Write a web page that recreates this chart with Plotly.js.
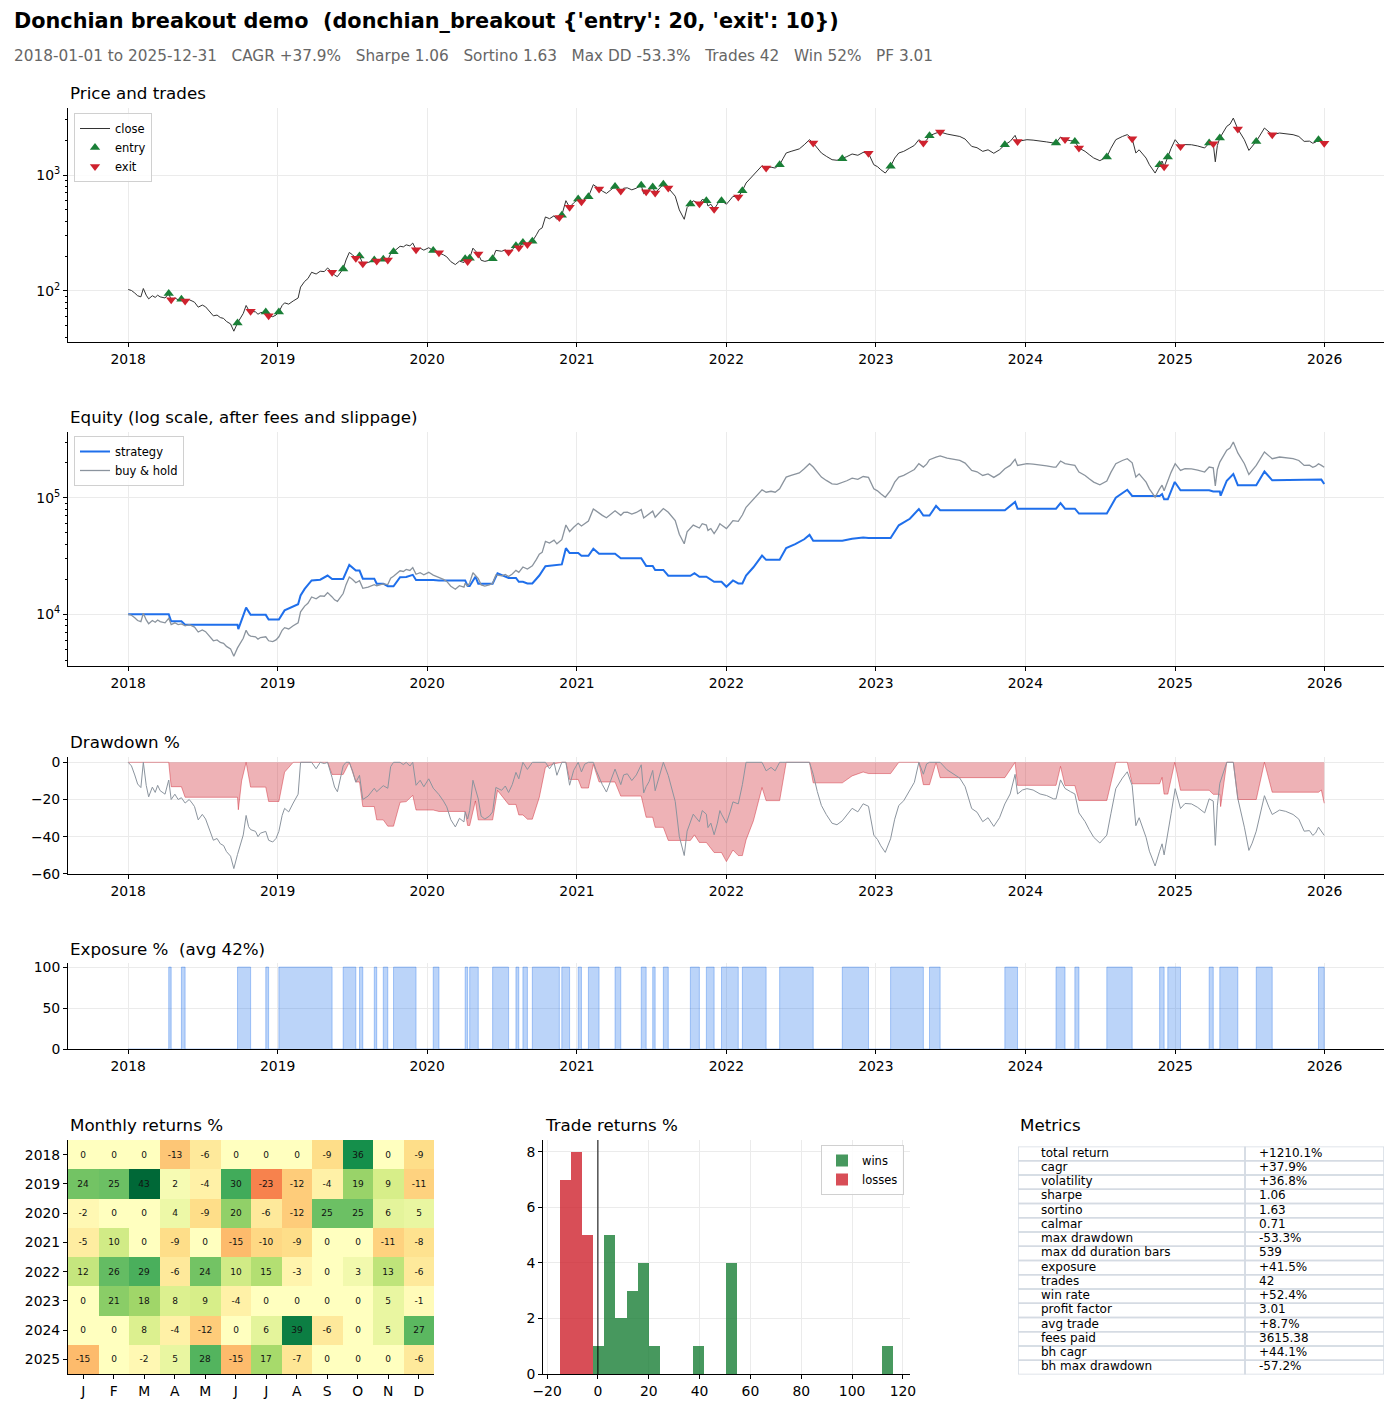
<!DOCTYPE html>
<html>
<head>
<meta charset="utf-8">
<script src="https://cdn.plot.ly/plotly-3.0.1.min.js"></script>
<style>
  html, body { margin: 0; padding: 0; background: #fff; }
  #chart { width: 1394px; height: 1409px; }
</style>
</head>
<body>
<div id="chart"></div>
<script>
// ---------------- price series (daily close, sampled) ----------------
const closeDates = [
// 2018
'2018-01-01','2018-01-09','2018-01-17','2018-01-24','2018-02-01','2018-02-07','2018-02-14','2018-02-20','2018-03-01','2018-03-08',
'2018-03-14','2018-03-20','2018-04-01','2018-04-10','2018-04-16','2018-04-25','2018-05-03','2018-05-11','2018-05-20','2018-05-30',
'2018-06-06','2018-06-12','2018-06-21','2018-07-01','2018-07-09','2018-07-18','2018-07-28','2018-08-06','2018-08-14','2018-08-22',
'2018-08-29','2018-09-08','2018-09-16','2018-09-25','2018-10-03','2018-10-09','2018-10-16','2018-10-22','2018-10-27','2018-11-08',
'2018-11-14','2018-11-20','2018-12-03','2018-12-10','2018-12-20','2018-12-28',
// 2019
'2019-01-04','2019-01-12','2019-01-18','2019-01-28','2019-02-08','2019-02-20','2019-02-26','2019-03-08','2019-03-16','2019-03-25',
'2019-04-05','2019-04-15','2019-04-25','2019-05-03','2019-05-14','2019-05-20','2019-05-27','2019-06-03','2019-06-10','2019-06-17',
'2019-06-25','2019-07-03','2019-07-11','2019-07-20','2019-07-28','2019-08-10','2019-08-25','2019-08-31','2019-09-08','2019-09-16',
'2019-09-27','2019-10-04','2019-10-11','2019-10-20','2019-10-27','2019-11-04','2019-11-11','2019-11-20','2019-11-27','2019-12-05',
'2019-12-15','2019-12-24',
// 2020
'2020-01-05','2020-01-16','2020-01-30','2020-02-10','2020-02-18','2020-02-28','2020-03-10','2020-03-20','2020-03-31','2020-04-03',
'2020-04-09','2020-04-14','2020-04-22','2020-05-05','2020-05-12','2020-05-21','2020-06-01','2020-06-09','2020-06-17','2020-07-01',
'2020-07-10','2020-07-18','2020-07-27','2020-08-05','2020-08-12','2020-08-22','2020-09-02','2020-09-14','2020-09-24','2020-10-01',
'2020-10-08','2020-10-16','2020-10-26','2020-11-06','2020-11-13','2020-11-19','2020-11-25','2020-12-05','2020-12-14','2020-12-24',
// 2021
'2021-01-04','2021-01-12','2021-01-20','2021-01-29','2021-02-10','2021-02-17','2021-02-24','2021-03-04','2021-03-14','2021-03-28',
'2021-04-04','2021-04-18','2021-04-25','2021-05-04','2021-05-15','2021-05-26','2021-06-07','2021-06-13','2021-06-19','2021-06-26',
'2021-07-05','2021-07-11','2021-07-20','2021-07-31','2021-08-12','2021-08-20','2021-08-29','2021-09-08','2021-09-20','2021-09-27',
'2021-10-05','2021-10-12','2021-10-27','2021-11-03','2021-11-13','2021-11-17','2021-11-24','2021-12-02','2021-12-10','2021-12-16',
'2021-12-20',
// 2022
'2022-01-01','2022-01-10','2022-01-17','2022-01-30','2022-02-09','2022-02-18','2022-03-08','2022-03-18','2022-03-29','2022-04-08',
'2022-04-20','2022-04-30','2022-05-11','2022-05-19','2022-05-27','2022-06-08','2022-06-18','2022-06-28','2022-07-10','2022-07-23',
'2022-08-01','2022-08-11','2022-08-21','2022-09-02','2022-09-16','2022-09-28','2022-10-11','2022-10-22','2022-11-04','2022-11-18',
'2022-12-01','2022-12-14','2022-12-27',
// 2023
'2023-01-05','2023-01-13','2023-01-24','2023-02-06','2023-02-16','2023-02-26','2023-03-10','2023-03-25','2023-04-05','2023-04-16',
'2023-04-27','2023-05-05','2023-05-12','2023-05-28','2023-06-07','2023-06-24','2023-07-10','2023-07-25','2023-08-07','2023-08-15',
'2023-08-23','2023-09-05','2023-09-19','2023-10-02','2023-10-16','2023-10-30','2023-11-12','2023-11-25','2023-12-07','2023-12-13',
'2023-12-25',
// 2024
'2024-01-05','2024-01-20','2024-02-06','2024-02-22','2024-03-10','2024-03-16','2024-03-27','2024-04-07','2024-04-20','2024-05-01',
'2024-05-11','2024-05-26','2024-06-05','2024-06-16','2024-07-01','2024-07-18','2024-07-28','2024-08-09','2024-08-25','2024-09-06',
'2024-09-18','2024-09-27','2024-10-05','2024-10-12','2024-10-22','2024-10-30','2024-11-06','2024-11-13','2024-11-24','2024-11-30',
'2024-12-05','2024-12-14','2024-12-22',
// 2025
'2025-01-01','2025-01-14','2025-01-25','2025-02-10','2025-02-25','2025-03-14','2025-03-25','2025-04-04','2025-04-09','2025-04-14',
'2025-04-20','2025-05-07','2025-05-15','2025-05-23','2025-06-03','2025-06-19','2025-06-30','2025-07-08','2025-07-18','2025-08-07',
'2025-08-18','2025-08-26','2025-09-13','2025-09-28','2025-10-16','2025-10-30','2025-11-12','2025-11-25','2025-12-03','2025-12-10',
'2025-12-17','2025-12-24','2025-12-31'
];
const closeVals = [
// 2018
103,101,96,91,89,105,92,85.5,91,88,
92,89,87,95,84,87,84,85,82,84,
82,80,72.5,75.6,73,67,61,62,59,58,
54.6,52,45,53,60,64,75,68.7,67,66,
63,65,66,61,60,62,
// 2019
66,75,79,77,82,87,108,121,128,145,
140,148,147,158,145,137,133,145,155,185,
215,205,192,200,172,176,185,181,184,188,
185,210,218,232,243,240,250,245,259,227,
234,225,
// 2020
236,223,214,205,197,179,169,181,176,190,
180,192,234,208,184,180,184,190,224,220,
226,217,228,245,236,262,252,268,305,338,
350,435,420,445,414,430,450,601,527,575,
// 2021
621,589,615,650,826,790,757,727,694,768,
796,727,770,775,745,770,815,690,718,740,
790,700,760,832,773,715,657,500,415,524,
562,600,566,616,600,540,560,508,560,616,
600,
// 2022
560,610,655,646,732,853,1006,1080,1203,1148,
1170,1148,1227,1380,1549,1600,1652,1680,1824,2017,
1888,1700,1549,1450,1356,1340,1383,1440,1518,1480,
1567,1540,1227,
// 2023
1180,1112,1040,1188,1400,1549,1600,1711,1800,2017,
1888,2000,2183,2300,2350,2255,2200,2150,2042,1900,
1766,1720,1600,1650,1540,1650,1824,1950,2198,1950,
2000,
// 2024
2017,2000,1950,1930,1888,1888,2128,2020,1980,1950,
1711,1600,1500,1403,1330,1430,1700,2017,2150,2230,
2055,1549,1650,1549,1400,1227,1120,1040,1227,1320,
1180,1430,1700,
// 2025
2017,1766,1830,1824,1780,1711,1888,1860,1300,1800,
2084,2630,2750,3097,2495,2017,1630,1750,1950,2541,
2350,2228,2302,2280,2228,2150,1950,1960,1880,1920,
2017,1950,1880
];

// ---------------- trades ----------------
const entryDates = [
'2018-04-10','2018-05-11','2018-09-25','2018-12-03','2019-01-04','2019-06-10','2019-07-20','2019-08-25','2019-09-16','2019-10-11',
'2020-01-16','2020-04-03','2020-04-14','2020-06-09','2020-08-05','2020-08-22','2020-09-14','2020-11-25','2021-01-04','2021-01-29',
'2021-04-04','2021-06-07','2021-07-05','2021-07-31','2021-10-05','2021-11-13','2021-12-20','2022-02-09','2022-05-11','2022-10-11',
'2023-02-06','2023-05-12','2023-11-12','2024-03-16','2024-05-01','2024-07-18','2024-11-24','2024-12-14','2025-03-25','2025-04-20',
'2025-07-18','2025-12-17'
];
const exitDates = [
'2018-04-16','2018-05-20','2018-10-27','2018-12-10','2019-05-14','2019-07-11','2019-07-28','2019-08-31','2019-09-27','2019-12-05',
'2020-01-30','2020-04-09','2020-05-05','2020-07-18','2020-08-12','2020-09-02','2020-11-19','2020-12-14','2021-01-12','2021-02-24',
'2021-04-18','2021-06-19','2021-07-11','2021-08-12','2021-10-27','2021-12-02','2022-01-30','2022-04-08','2022-08-01','2022-12-14',
'2023-04-27','2023-06-07','2023-12-13','2024-04-07','2024-05-11','2024-09-18','2024-12-05','2025-01-14','2025-04-04','2025-06-03',
'2025-08-26','2025-12-31'
];
const tradeReturns = [
-13.1,-6.5,22.3,-8.7,116.0,18.1,-14.9,-9.6,8.0,13.3,
-3.0,-10.2,4.6,12.0,-7.1,-4.0,53.5,14.6,-5.3,3.8,
-8.2,-13.8,-7.6,-10.9,-4.6,-9.1,-5.8,54.2,51.3,5.3,
52.6,9.9,3.0,6.1,-12.0,40.1,-11.4,19.5,0.9,17.2,
16.4,-12.6
];

// ---------------- strategy equity (after fees and slippage) ----------------
const eqDates = [
'2018-01-01','2018-04-10','2018-04-16','2018-05-11','2018-05-20','2018-09-25','2018-09-27','2018-10-05','2018-10-16','2018-10-27',
'2018-12-03','2018-12-10','2019-01-04','2019-01-18','2019-02-08','2019-02-20','2019-02-26','2019-03-08','2019-03-25','2019-04-15',
'2019-05-03','2019-05-14','2019-06-10','2019-06-25','2019-07-11','2019-07-20','2019-07-28','2019-08-25','2019-08-31','2019-09-16',
'2019-09-27','2019-10-11','2019-10-27','2019-11-11','2019-11-27','2019-12-05','2020-01-16','2020-01-30','2020-04-03','2020-04-09',
'2020-04-14','2020-04-28','2020-05-05','2020-06-09','2020-06-21','2020-07-18','2020-08-05','2020-08-12','2020-08-22','2020-09-02',
'2020-09-14','2020-10-01','2020-10-16','2020-11-06','2020-11-19','2020-11-25','2020-12-05','2020-12-14','2021-01-04','2021-01-12',
'2021-01-29','2021-02-10','2021-02-24','2021-04-04','2021-04-18','2021-06-07','2021-06-19','2021-07-05','2021-07-11','2021-07-31',
'2021-08-12','2021-10-05','2021-10-15','2021-10-27','2021-11-13','2021-12-02','2021-12-20','2022-01-01','2022-01-17','2022-01-30',
'2022-02-09','2022-02-18','2022-03-08','2022-03-29','2022-04-08','2022-05-11','2022-05-27','2022-06-18','2022-07-10','2022-07-23',
'2022-08-01','2022-10-11','2022-11-04','2022-12-01','2022-12-14','2023-02-06','2023-02-26','2023-03-25','2023-04-16','2023-04-27',
'2023-05-12','2023-05-28','2023-06-07','2023-11-12','2023-12-07','2023-12-13','2024-03-16','2024-03-27','2024-04-07','2024-05-01',
'2024-05-11','2024-07-18','2024-08-09','2024-09-06','2024-09-18','2024-11-24','2024-11-30','2024-12-05','2024-12-14','2024-12-31',
'2025-01-14','2025-03-25','2025-04-04','2025-04-20','2025-04-22','2025-05-07','2025-05-23','2025-06-03','2025-07-18','2025-08-07',
'2025-08-26','2025-12-17','2025-12-24','2025-12-31'
];
const eqVals = [
10000,10000,8690,8690,8120,8120,7450,9000,11400,9880,
9880,9000,9000,10800,11600,12200,14500,16500,19500,19800,
21500,20100,20100,26500,23700,23700,20200,20200,18300,18300,
17400,17400,20800,20900,21800,19700,19700,19500,19500,17500,
17500,21000,18300,18300,22500,20500,20500,19000,19000,18400,
18400,21500,25800,26300,26800,26800,36900,33500,33500,31800,
31800,36500,33000,33000,30200,30200,26000,26000,24000,24000,
21400,21400,22500,21000,21000,19000,19000,17200,19500,18400,
18400,21500,25300,31900,29300,29300,37000,40000,44000,48000,
42700,42700,44500,45500,45100,45100,58000,66000,80000,70400,
70400,85000,78000,78000,92000,80600,80600,90000,80500,80500,
73100,73100,100000,117000,103500,103500,107500,97000,97000,136500,
116000,116000,113000,113000,104000,140000,160000,128000,128000,168000,
141000,141000,143000,131000
];

// ---------------- monthly returns % ----------------
const monthLabels = ['J','F','M','A','M','J','J','A','S','O','N','D'];
const yearLabels = ['2018','2019','2020','2021','2022','2023','2024','2025'];
const ret2018 = [0,0,0,-13,-6,0,0,0,-9,36,0,-9];
const ret2019 = [24,25,43,2,-4,30,-23,-12,-4,19,9,-11];
const ret2020 = [-2,0,0,4,-9,20,-6,-12,25,25,6,5];
const ret2021 = [-5,10,0,-9,0,-15,-10,-9,0,0,-11,-8];
const ret2022 = [12,26,29,-6,24,10,15,-3,0,3,13,-6];
const ret2023 = [0,21,18,8,9,-4,0,0,0,0,5,-1];
const ret2024 = [0,0,8,-4,-12,0,6,39,-6,0,5,27];
const ret2025 = [-15,0,-2,5,28,-15,17,-7,0,0,0,-6];

// ---------------- metrics ----------------
const metricNames = ['total return','cagr','volatility','sharpe','sortino','calmar','max drawdown',
  'max dd duration bars','exposure','trades','win rate','profit factor','avg trade','fees paid','bh cagr','bh max drawdown'];
const metricValues = ['+1210.1%','+37.9%','+36.8%','1.06','1.63','0.71','-53.3%',
  '539','+41.5%','42','+52.4%','3.01','+8.7%','3615.38','+44.1%','-57.2%'];

const yearTicks = ['2018','2019','2020','2021','2022','2023','2024','2025','2026'];

// ---------------- derived series ----------------
function closeAt(d) {
  let idx = closeDates.indexOf(d);
  if (idx < 0) { idx = 0; while (idx + 1 < closeDates.length && closeDates[idx + 1] <= d) idx++; }
  return closeVals[idx];
}
function drawdownPct(vals) {
  let peak = -Infinity;
  return vals.map(v => { peak = Math.max(peak, v); return (v / peak - 1) * 100; });
}
const bhEquity = closeVals.map(v => 10000 * v / closeVals[0]);
const bhDD = drawdownPct(closeVals);
const stratDD = drawdownPct(eqVals);

const expX = [closeDates[0]], expY = [0];
for (let i = 0; i < entryDates.length; i++) {
  expX.push(entryDates[i], entryDates[i], exitDates[i], exitDates[i]);
  expY.push(0, 100, 100, 0);
}
expX.push(closeDates[closeDates.length - 1]); expY.push(0);

const z = [ret2018, ret2019, ret2020, ret2021, ret2022, ret2023, ret2024, ret2025];
const wins = tradeReturns.filter(r => r > 0);
const losses = tradeReturns.filter(r => r <= 0);
const lo = Math.min(...tradeReturns), hi = Math.max(...tradeReturns);
const binSize = (hi - lo) / 30 * 1.000001;
const bins = {start: lo, end: lo + 30 * binSize, size: binSize};

// ---------------- styling ----------------
const W = 1394, H = 1409;
const px = x => x / W;
const py = y => 1 - y / H;
const FONT = 'DejaVu Sans, Verdana, sans-serif';
const GREEN = '#1a7f37', RED = '#cf222e', BLUE = '#1f6feb', GRAY = '#8b949e';
const GRID = '#ebebeb';
const TICK = 13.9, LEG = 11.5, TITLE = 16.7;

const RdYlGn = [
  [0.0,'#a50026'],[0.1,'#d73027'],[0.2,'#f46d43'],[0.3,'#fdae61'],[0.4,'#fee08b'],
  [0.5,'#ffffbf'],[0.6,'#d9ef8b'],[0.7,'#a6d96a'],[0.8,'#66bd63'],[0.9,'#1a9850'],[1.0,'#006837']
];

const timeX = (dom) => ({
  domain: dom, type: 'date', range: ['2017-08-07', '2026-05-26'],
  tickmode: 'array', tickvals: yearTicks.map(y => y + '-01-01'), ticktext: yearTicks,
  showline: true, linecolor: '#000', linewidth: 1, ticks: 'outside', ticklen: 4, tickcolor: '#000',
  showgrid: true, gridcolor: GRID, zeroline: false, tickfont: {size: TICK, color: '#000'}
});
const baseY = {
  showline: true, linecolor: '#000', linewidth: 1, ticks: 'outside', ticklen: 4, tickcolor: '#000',
  showgrid: true, gridcolor: GRID, zeroline: false, tickfont: {size: TICK, color: '#000'}
};
const XD = [px(68), px(1384)];

// metrics table geometry (cell grid in its own hidden axis, units: px columns, rows)
const COL1 = 227, COL2 = 139;
const nRows = metricNames.length;

const traces = [
  // price and trades
  {type: 'scatter', mode: 'lines', x: closeDates, y: closeVals, name: 'close',
   line: {color: '#333333', width: 1}, xaxis: 'x', yaxis: 'y', legend: 'legend'},
  {type: 'scatter', mode: 'markers', x: entryDates, y: entryDates.map(closeAt), name: 'entry',
   marker: {symbol: 'triangle-up', size: 9, color: GREEN}, xaxis: 'x', yaxis: 'y', legend: 'legend'},
  {type: 'scatter', mode: 'markers', x: exitDates, y: exitDates.map(closeAt), name: 'exit',
   marker: {symbol: 'triangle-down', size: 9, color: RED}, xaxis: 'x', yaxis: 'y', legend: 'legend'},
  // equity
  {type: 'scatter', mode: 'lines', x: eqDates, y: eqVals, name: 'strategy',
   line: {color: BLUE, width: 2}, xaxis: 'x2', yaxis: 'y2', legend: 'legend2'},
  {type: 'scatter', mode: 'lines', x: closeDates, y: bhEquity, name: 'buy & hold',
   line: {color: GRAY, width: 1.3}, xaxis: 'x2', yaxis: 'y2', legend: 'legend2'},
  // drawdown
  {type: 'scatter', mode: 'lines', x: eqDates, y: stratDD, fill: 'tozeroy',
   fillcolor: 'rgba(207,34,46,0.35)', line: {color: 'rgba(207,34,46,0.45)', width: 1},
   xaxis: 'x3', yaxis: 'y3', showlegend: false},
  {type: 'scatter', mode: 'lines', x: closeDates, y: bhDD,
   line: {color: GRAY, width: 1}, xaxis: 'x3', yaxis: 'y3', showlegend: false},
  // exposure
  {type: 'scatter', mode: 'lines', x: expX, y: expY, fill: 'tozeroy',
   fillcolor: 'rgba(31,111,235,0.3)', line: {color: 'rgba(31,111,235,0.35)', width: 1},
   xaxis: 'x4', yaxis: 'y4', showlegend: false},
  // monthly heatmap
  {type: 'heatmap', z: z, x: monthLabels.map((m, i) => i), y: yearLabels.map((y, i) => i),
   text: z, texttemplate: '%{text}', textfont: {size: 9, color: '#111'},
   colorscale: RdYlGn, zmin: -43, zmax: 43, showscale: false, xgap: 0, ygap: 0,
   xaxis: 'x5', yaxis: 'y5', hoverinfo: 'skip'},
  // trade returns
  {type: 'histogram', x: wins, name: 'wins', xbins: bins, autobinx: false,
   marker: {color: GREEN, line: {width: 0}}, opacity: 0.8, xaxis: 'x6', yaxis: 'y6', legend: 'legend3'},
  {type: 'histogram', x: losses, name: 'losses', xbins: bins, autobinx: false,
   marker: {color: RED, line: {width: 0}}, opacity: 0.8, xaxis: 'x6', yaxis: 'y6', legend: 'legend3'},
  // metrics table text
  {type: 'scatter', mode: 'text', x: metricNames.map(() => 23), y: metricNames.map((n, i) => i + 0.5),
   text: metricNames, textposition: 'middle right', textfont: {size: 12, color: '#000', family: FONT},
   xaxis: 'x7', yaxis: 'y7', showlegend: false, hoverinfo: 'skip', cliponaxis: false},
  {type: 'scatter', mode: 'text', x: metricValues.map(() => COL1 + 14), y: metricValues.map((n, i) => i + 0.5),
   text: metricValues, textposition: 'middle right', textfont: {size: 12, color: '#000', family: FONT},
   xaxis: 'x7', yaxis: 'y7', showlegend: false, hoverinfo: 'skip', cliponaxis: false}
];

const tableShapes = [];
for (let i = 0; i < nRows; i++) {
  tableShapes.push({type: 'rect', xref: 'x7', yref: 'y7', x0: 0, x1: COL1, y0: i, y1: i + 1,
    line: {color: '#d5dbe3', width: 1.5}, fillcolor: 'rgba(0,0,0,0)', layer: 'below'});
  tableShapes.push({type: 'rect', xref: 'x7', yref: 'y7', x0: COL1, x1: COL1 + COL2, y0: i, y1: i + 1,
    line: {color: '#d5dbe3', width: 1.5}, fillcolor: 'rgba(0,0,0,0)', layer: 'below'});
}

const legendBase = {
  bgcolor: 'rgba(255,255,255,0.85)', bordercolor: '#d0d0d0', borderwidth: 1,
  font: {size: LEG, color: '#000'}, yanchor: 'top', tracegroupgap: 0, itemwidth: 30
};

function title(text, x, y, opts) {
  return Object.assign({text: text, xref: 'paper', yref: 'paper', x: px(x), y: py(y),
    xanchor: 'left', yanchor: 'middle', showarrow: false,
    font: {size: TITLE, color: '#000', family: FONT}}, opts || {});
}
const sp = '\u00a0\u00a0\u00a0';

const layout = {
  width: W, height: H, margin: {l: 0, r: 0, t: 0, b: 0},
  paper_bgcolor: '#fff', plot_bgcolor: '#fff',
  font: {family: FONT, color: '#000'},
  barmode: 'overlay', bargap: 0,
  xaxis: timeX(XD),
  yaxis: Object.assign({}, baseY, {domain: [py(342), py(108)], type: 'log', range: [1.56, 3.578],
    tickmode: 'array', tickvals: [100, 1000], ticktext: ['10<sup>2</sup>', '10<sup>3</sup>'],
    minor: {tickmode: 'array', tickvals: [40,50,60,70,80,90,200,300,400,500,600,700,800,900,2000,3000],
            ticks: 'outside', ticklen: 2, tickcolor: '#000', showgrid: false}}),
  xaxis2: Object.assign(timeX(XD), {anchor: 'y2'}),
  yaxis2: Object.assign({}, baseY, {domain: [py(666), py(432)], type: 'log', range: [3.556, 5.564],
    anchor: 'x2', tickmode: 'array', tickvals: [1e4, 1e5], ticktext: ['10<sup>4</sup>', '10<sup>5</sup>'],
    minor: {tickmode: 'array', tickvals: [4000,5000,6000,7000,8000,9000,20000,30000,40000,50000,60000,70000,80000,90000,200000,300000],
            ticks: 'outside', ticklen: 2, tickcolor: '#000', showgrid: false}}),
  xaxis3: Object.assign(timeX(XD), {anchor: 'y3'}),
  yaxis3: Object.assign({}, baseY, {domain: [py(874), py(757)], range: [-60.06, 2.86], anchor: 'x3',
    tickmode: 'array', tickvals: [0, -20, -40, -60]}),
  xaxis4: Object.assign(timeX(XD), {anchor: 'y4'}),
  yaxis4: Object.assign({}, baseY, {domain: [py(1049), py(963)], range: [0, 105], anchor: 'x4',
    tickmode: 'array', tickvals: [0, 50, 100]}),
  xaxis5: {domain: [px(68), px(434)], anchor: 'y5', range: [-0.5, 11.5], tickmode: 'array',
    tickvals: monthLabels.map((m, i) => i), ticktext: monthLabels, showline: true, linecolor: '#000',
    linewidth: 1, ticks: 'outside', ticklen: 4, tickcolor: '#000', showgrid: false, zeroline: false,
    tickfont: {size: TICK, color: '#000'}},
  yaxis5: {domain: [py(1374), py(1140)], anchor: 'x5', range: [7.5, -0.5], tickmode: 'array',
    tickvals: yearLabels.map((y, i) => i), ticktext: yearLabels, showline: true, linecolor: '#000',
    linewidth: 1, ticks: 'outside', ticklen: 4, tickcolor: '#000', showgrid: false, zeroline: false,
    tickfont: {size: TICK, color: '#000'}},
  xaxis6: {domain: [px(543), px(910)], anchor: 'y6', range: [-21.6, 122.8], tickmode: 'array',
    tickvals: [-20, 0, 20, 40, 60, 80, 100, 120], showline: true, linecolor: '#000', linewidth: 1,
    ticks: 'outside', ticklen: 4, tickcolor: '#000', showgrid: true, gridcolor: GRID, zeroline: false,
    tickfont: {size: TICK, color: '#000'}},
  yaxis6: Object.assign({}, baseY, {domain: [py(1374), py(1140)], anchor: 'x6', range: [0, 8.43],
    tickmode: 'array', tickvals: [0, 2, 4, 6, 8]}),
  xaxis7: {domain: [px(1018), px(1384)], anchor: 'y7', range: [0, COL1 + COL2], visible: false, fixedrange: true},
  yaxis7: {domain: [py(1374.5), py(1146.5)], anchor: 'x7', range: [nRows, 0], visible: false, fixedrange: true},
  legend: Object.assign({}, legendBase, {x: px(74), y: py(113), xanchor: 'left'}),
  legend2: Object.assign({}, legendBase, {x: px(74), y: py(436), xanchor: 'left'}),
  legend3: Object.assign({}, legendBase, {x: px(904), y: py(1145), xanchor: 'right'}),
  shapes: [
    {type: 'line', xref: 'x6', yref: 'y6 domain', x0: 0, x1: 0, y0: 0, y1: 1,
     line: {color: '#000', width: 1}}
  ].concat(tableShapes),
  annotations: [
    title("<b>Donchian breakout demo  (donchian_breakout {'entry': 20, 'exit': 10})</b>", 12, 21,
      {font: {size: 20.8, color: '#000', family: FONT, weight: 'bold'}}),
    title('2018-01-01 to 2025-12-31' + sp + 'CAGR +37.9%' + sp + 'Sharpe 1.06' + sp + 'Sortino 1.63' + sp +
      'Max DD -53.3%' + sp + 'Trades 42' + sp + 'Win 52%' + sp + 'PF 3.01', 12, 56,
      {font: {size: 15.3, color: '#666', family: FONT}}),
    title('Price and trades', 68, 93),
    title('Equity (log scale, after fees and slippage)', 68, 417),
    title('Drawdown %', 68, 742),
    title('Exposure %\u00a0 (avg 42%)', 68, 949),
    title('Monthly returns %', 68, 1125),
    title('Trade returns %', 543, 1125),
    title('Metrics', 1018, 1125)
  ]
};

Plotly.newPlot('chart', traces, layout, {displayModeBar: false, staticPlot: true});
</script>
</body>
</html>
